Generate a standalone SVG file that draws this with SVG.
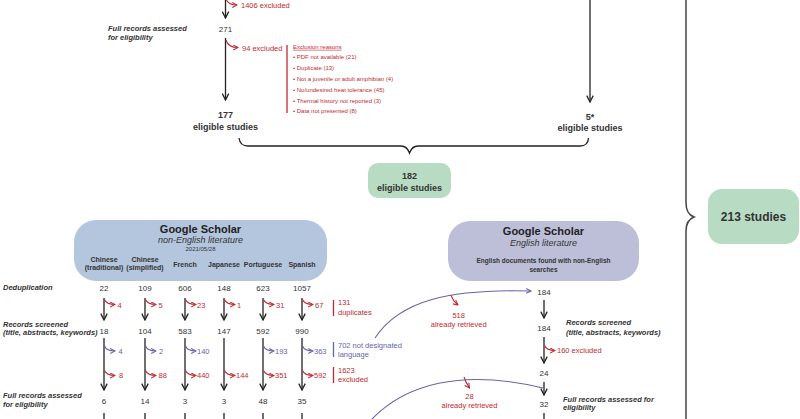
<svg xmlns="http://www.w3.org/2000/svg" width="800" height="419" viewBox="0 0 800 419">
<style>
text{font-family:"Liberation Sans",Arial,sans-serif;fill:#333}
.n{font-size:8px;text-anchor:middle}
.r{font-size:7.5px;fill:#c22a32}
.b{font-size:7.5px;fill:#6663ad}
.lb{font-size:7.5px;font-weight:bold;font-style:italic}
.hd{font-size:9px;font-weight:bold;text-anchor:middle}
.gs{font-size:11px;font-weight:bold;text-anchor:middle;fill:#222}
.it{font-size:9px;font-style:italic;text-anchor:middle}
.lang{font-size:7px;font-weight:bold;text-anchor:middle}
.ex{font-size:6px;fill:#c22a32}
.ka{fill:none;stroke:#222;stroke-width:1.3}
.ra{fill:none;stroke:#c22a32;stroke-width:1.1}
.ba{fill:none;stroke:#6663ad;stroke-width:1.1}
.bar{stroke-width:1.3}
</style>
<defs>
<marker id="mk" viewBox="0 0 10 10" refX="9" refY="5" markerWidth="8" markerHeight="8" markerUnits="userSpaceOnUse" orient="auto"><path d="M1,1 L9,5 L1,9" fill="none" stroke="#222" stroke-width="1.6"/></marker>
<marker id="mr" viewBox="0 0 10 10" refX="9" refY="5" markerWidth="6" markerHeight="6" markerUnits="userSpaceOnUse" orient="auto"><path d="M1,1 L9,5 L1,9" fill="none" stroke="#c22a32" stroke-width="1.8"/></marker>
<marker id="mb" viewBox="0 0 10 10" refX="9" refY="5" markerWidth="6" markerHeight="6" markerUnits="userSpaceOnUse" orient="auto"><path d="M1,1 L9,5 L1,9" fill="none" stroke="#6663ad" stroke-width="1.8"/></marker>
</defs>

<g id="connectors">
<!-- top left -->
<path class="ka" d="M225.5,0 L225.5,18" marker-end="url(#mk)"/>
<path class="ra" d="M226,-1 Q228,5 237,5" marker-end="url(#mr)"/>
<path class="ka" d="M225.5,38 L225.5,100" marker-end="url(#mk)"/>
<path class="ra" d="M226,40 Q228,47.5 238,47.5" marker-end="url(#mr)"/>
<!-- top right -->
<path class="ka" d="M590,0 L590,102" marker-end="url(#mk)"/>
<!-- brace under top -->
<path class="ka" d="M239,138 Q240,146 248,146 L401,146 Q407,146 409.5,153 Q412,146 418,146 L580,146 Q588,146 588.5,138"/>
<!-- big right brace -->
<path fill="none" stroke="#444" stroke-width="1.5" d="M686,0 L686,203 Q686,214 694,217 Q686,220 686,231 L686,419"/>
<!-- column arrows -->
<g>
<path class="ka" d="M104,298 L104,320" marker-end="url(#mk)"/>
<path class="ka" d="M145,298 L145,320" marker-end="url(#mk)"/>
<path class="ka" d="M185,298 L185,320" marker-end="url(#mk)"/>
<path class="ka" d="M224,298 L224,320" marker-end="url(#mk)"/>
<path class="ka" d="M263,298 L263,320" marker-end="url(#mk)"/>
<path class="ka" d="M302,298 L302,320" marker-end="url(#mk)"/>
<path class="ka" d="M104,338 L104,390" marker-end="url(#mk)"/>
<path class="ka" d="M145,338 L145,390" marker-end="url(#mk)"/>
<path class="ka" d="M185,338 L185,390" marker-end="url(#mk)"/>
<path class="ka" d="M224,338 L224,390" marker-end="url(#mk)"/>
<path class="ka" d="M263,338 L263,390" marker-end="url(#mk)"/>
<path class="ka" d="M302,338 L302,390" marker-end="url(#mk)"/>
<path class="ka" d="M104,413 L104,420 M145,413 L145,420 M185,413 L185,420 M224,413 L224,420 M263,413 L263,420 M302,413 L302,420"/>
</g>
<g>
<path class="ra" d="M104.5,299.5 Q106.5,304.5 115,304.5" marker-end="url(#mr)"/>
<path class="ra" d="M145.5,299.5 Q147.5,304.5 156,304.5" marker-end="url(#mr)"/>
<path class="ra" d="M185.5,299.5 Q187.5,304.5 196,304.5" marker-end="url(#mr)"/>
<path class="ra" d="M224.5,299.5 Q226.5,304.5 235,304.5" marker-end="url(#mr)"/>
<path class="ra" d="M263.5,299.5 Q265.5,304.5 274,304.5" marker-end="url(#mr)"/>
<path class="ra" d="M302.5,299.5 Q304.5,304.5 313,304.5" marker-end="url(#mr)"/>
<path class="ba" d="M104.5,346 Q106.5,351 115,351" marker-end="url(#mb)"/>
<path class="ba" d="M145.5,346 Q147.5,351 156,351" marker-end="url(#mb)"/>
<path class="ba" d="M185.5,346 Q187.5,351 196,351" marker-end="url(#mb)"/>
<path class="ba" d="M263.5,346 Q265.5,351 274,351" marker-end="url(#mb)"/>
<path class="ba" d="M302.5,346 Q304.5,351 313,351" marker-end="url(#mb)"/>
<path class="ra" d="M104.5,370.5 Q106.5,375.5 115,375.5" marker-end="url(#mr)"/>
<path class="ra" d="M145.5,370.5 Q147.5,375.5 156,375.5" marker-end="url(#mr)"/>
<path class="ra" d="M185.5,370.5 Q187.5,375.5 196,375.5" marker-end="url(#mr)"/>
<path class="ra" d="M224.5,370.5 Q226.5,375.5 235,375.5" marker-end="url(#mr)"/>
<path class="ra" d="M263.5,370.5 Q265.5,375.5 274,375.5" marker-end="url(#mr)"/>
<path class="ra" d="M302.5,370.5 Q304.5,375.5 313,375.5" marker-end="url(#mr)"/>
</g>
<!-- side bars -->
<path class="bar" stroke="#c22a32" d="M333.5,300 L333.5,316 M333.5,367 L333.5,383 M287,45 L287,113"/>
<path class="bar" stroke="#6663ad" d="M333.5,342 L333.5,357"/>
<!-- right column -->
<path class="ka" d="M544,300 L544,318" marker-end="url(#mk)"/>
<path class="ka" d="M544,337 L544,363" marker-end="url(#mk)"/>
<path class="ra" d="M544.5,345.5 Q546.5,350.5 555,350.5" marker-end="url(#mr)"/>
<path class="ka" d="M544,382 L544,395" marker-end="url(#mk)"/>
<path class="ka" d="M544,413 L544,420"/>
<!-- blue curves -->
<path class="ba" stroke-width="1.2" d="M375,338 C400,300 450,289 531,291" marker-end="url(#mb)"/>
<path class="ra" d="M451,295 Q453,301 458,305" marker-end="url(#mr)"/>
<path class="ba" stroke-width="1.2" d="M372,419 C405,385 460,368 543,388"/>
<path class="ra" d="M464,377 Q466,383 469.5,388" marker-end="url(#mr)"/>
</g>

<g id="top-left">
<text class="r" x="241" y="7.7">1406 excluded</text>
<text class="n" x="225.5" y="32">271</text>
<text class="lb" x="108" y="31">Full records assessed</text>
<text class="lb" x="108" y="40">for eligibility</text>
<text class="r" x="242" y="51">94 excluded</text>
<text class="hd" x="225.5" y="117.5">177</text>
<text class="hd" x="225.5" y="129.5">eligible studies</text>
</g>
<g id="exclusion-reasons">
<text class="ex" x="293" y="48.8" text-decoration="underline">Exclusion reasons</text>
<text class="ex" x="293" y="59.1">• PDF not available (21)</text>
<text class="ex" x="293" y="70.1">• Duplicate (13)</text>
<text class="ex" x="293" y="81">• Not a juvenile or adult amphibian (4)</text>
<text class="ex" x="293" y="91.6">• No/undesired heat tolerance (45)</text>
<text class="ex" x="293" y="102.6">• Thermal history not reported (3)</text>
<text class="ex" x="293" y="113.1">• Data not presented (8)</text>
</g>
<g id="top-right">
<text class="hd" x="590" y="119.8">5*</text>
<text class="hd" x="590" y="131">eligible studies</text>
</g>
<g id="node-182">
<rect x="368" y="163" width="83" height="35" rx="10" fill="#b8dcc3"/>
<text class="hd" x="409.5" y="178.5">182</text>
<text class="hd" x="409.5" y="191">eligible studies</text>
</g>
<g id="node-213">
<rect x="708" y="189" width="91" height="55" rx="14" fill="#b8dcc3"/>
<text style="font-size:12px;font-weight:bold;text-anchor:middle" x="753.5" y="220.5">213 studies</text>
</g>
<g id="gs-non-english">
<rect x="74" y="220" width="253" height="61" rx="22" fill="#b3c6de"/>
<text class="gs" x="200.5" y="232.5">Google Scholar</text>
<text class="it" x="200.5" y="242.8">non-English literature</text>
<text style="font-size:6px;text-anchor:middle" x="200.5" y="251.2">2021/05/28</text>
<text class="lang" x="104" y="262">Chinese</text>
<text class="lang" x="104" y="270.3">(traditional)</text>
<text class="lang" x="145" y="262">Chinese</text>
<text class="lang" x="145" y="270.3">(simplified)</text>
<text class="lang" x="185" y="266.5">French</text>
<text class="lang" x="224" y="266.5">Japanese</text>
<text class="lang" x="263" y="266.5">Portuguese</text>
<text class="lang" x="302" y="266.5">Spanish</text>
</g>
<g id="non-english-rows">
<text class="lb" x="3" y="290">Deduplication</text>
<text class="lb" x="3" y="327">Records screened</text>
<text class="lb" x="3" y="335">(title, abstracts, keywords)</text>
<text class="lb" x="3" y="397.7">Full records assessed</text>
<text class="lb" x="3" y="406.7">for eligibility</text>
<text class="n" x="104" y="290.5">22</text>
<text class="n" x="145" y="290.5">109</text>
<text class="n" x="185" y="290.5">606</text>
<text class="n" x="224" y="290.5">148</text>
<text class="n" x="263" y="290.5">623</text>
<text class="n" x="302" y="290.5">1057</text>
<text class="r" x="117.5" y="308">4</text>
<text class="r" x="158.5" y="308">5</text>
<text class="r" x="197" y="308">23</text>
<text class="r" x="237" y="308">1</text>
<text class="r" x="276" y="308">31</text>
<text class="r" x="315" y="308">67</text>
<text class="r" x="338" y="305.3">131</text>
<text class="r" x="338" y="315.3">duplicates</text>
<text class="n" x="104" y="333.5">18</text>
<text class="n" x="145" y="333.5">104</text>
<text class="n" x="185" y="333.5">583</text>
<text class="n" x="224" y="333.5">147</text>
<text class="n" x="263" y="333.5">592</text>
<text class="n" x="302" y="333.5">990</text>
<text class="b" x="118.5" y="353.7">4</text>
<text class="b" x="159" y="353.7">2</text>
<text class="b" x="197" y="353.7">140</text>
<text class="b" x="275" y="353.7">193</text>
<text class="b" x="314" y="353.7">363</text>
<text class="b" x="338" y="347.7">702 not designated</text>
<text class="b" x="338" y="356.7">language</text>
<text class="r" x="119" y="378.3">8</text>
<text class="r" x="158.5" y="378.3">88</text>
<text class="r" x="197" y="378.3">440</text>
<text class="r" x="236" y="378.3">144</text>
<text class="r" x="275" y="378.3">351</text>
<text class="r" x="314" y="378.3">592</text>
<text class="r" x="338" y="373.3">1623</text>
<text class="r" x="338" y="382">excluded</text>
<text class="n" x="104" y="403.5">6</text>
<text class="n" x="145" y="403.5">14</text>
<text class="n" x="185" y="403.5">3</text>
<text class="n" x="224" y="403.5">3</text>
<text class="n" x="263" y="403.5">48</text>
<text class="n" x="302" y="403.5">35</text>
</g>
<g id="gs-english">
<rect x="448" y="221" width="191" height="60" rx="22" fill="#bdbfd9"/>
<text class="gs" x="543.5" y="235">Google Scholar</text>
<text class="it" x="543.5" y="246">English literature</text>
<text style="font-size:6.5px;font-weight:bold;text-anchor:middle" x="543.5" y="263.3">English documents found with non-English</text>
<text style="font-size:6.5px;font-weight:bold;text-anchor:middle" x="543.5" y="272.3">searches</text>
</g>
<g id="english-rows">
<text class="n" x="544" y="294.5">184</text>
<text class="n" x="544" y="331">184</text>
<text class="lb" x="566" y="325.3">Records screened</text>
<text class="lb" x="566" y="334.7">(title, abstracts, keywords)</text>
<text class="r" x="557" y="353.3">160 excluded</text>
<text class="n" x="544" y="376">24</text>
<text class="n" x="544" y="407">32</text>
<text class="lb" x="563" y="401.7">Full records assessed for</text>
<text class="lb" x="563" y="410.3">eligibility</text>
</g>
<g id="already-retrieved">
<text class="r" x="458.7" y="318.3" text-anchor="middle">518</text>
<text class="r" x="458.7" y="326.7" text-anchor="middle">already retrieved</text>
<text class="r" x="469.5" y="398.7" text-anchor="middle">28</text>
<text class="r" x="469.5" y="407.7" text-anchor="middle">already retrieved</text>
</g>
</svg>
